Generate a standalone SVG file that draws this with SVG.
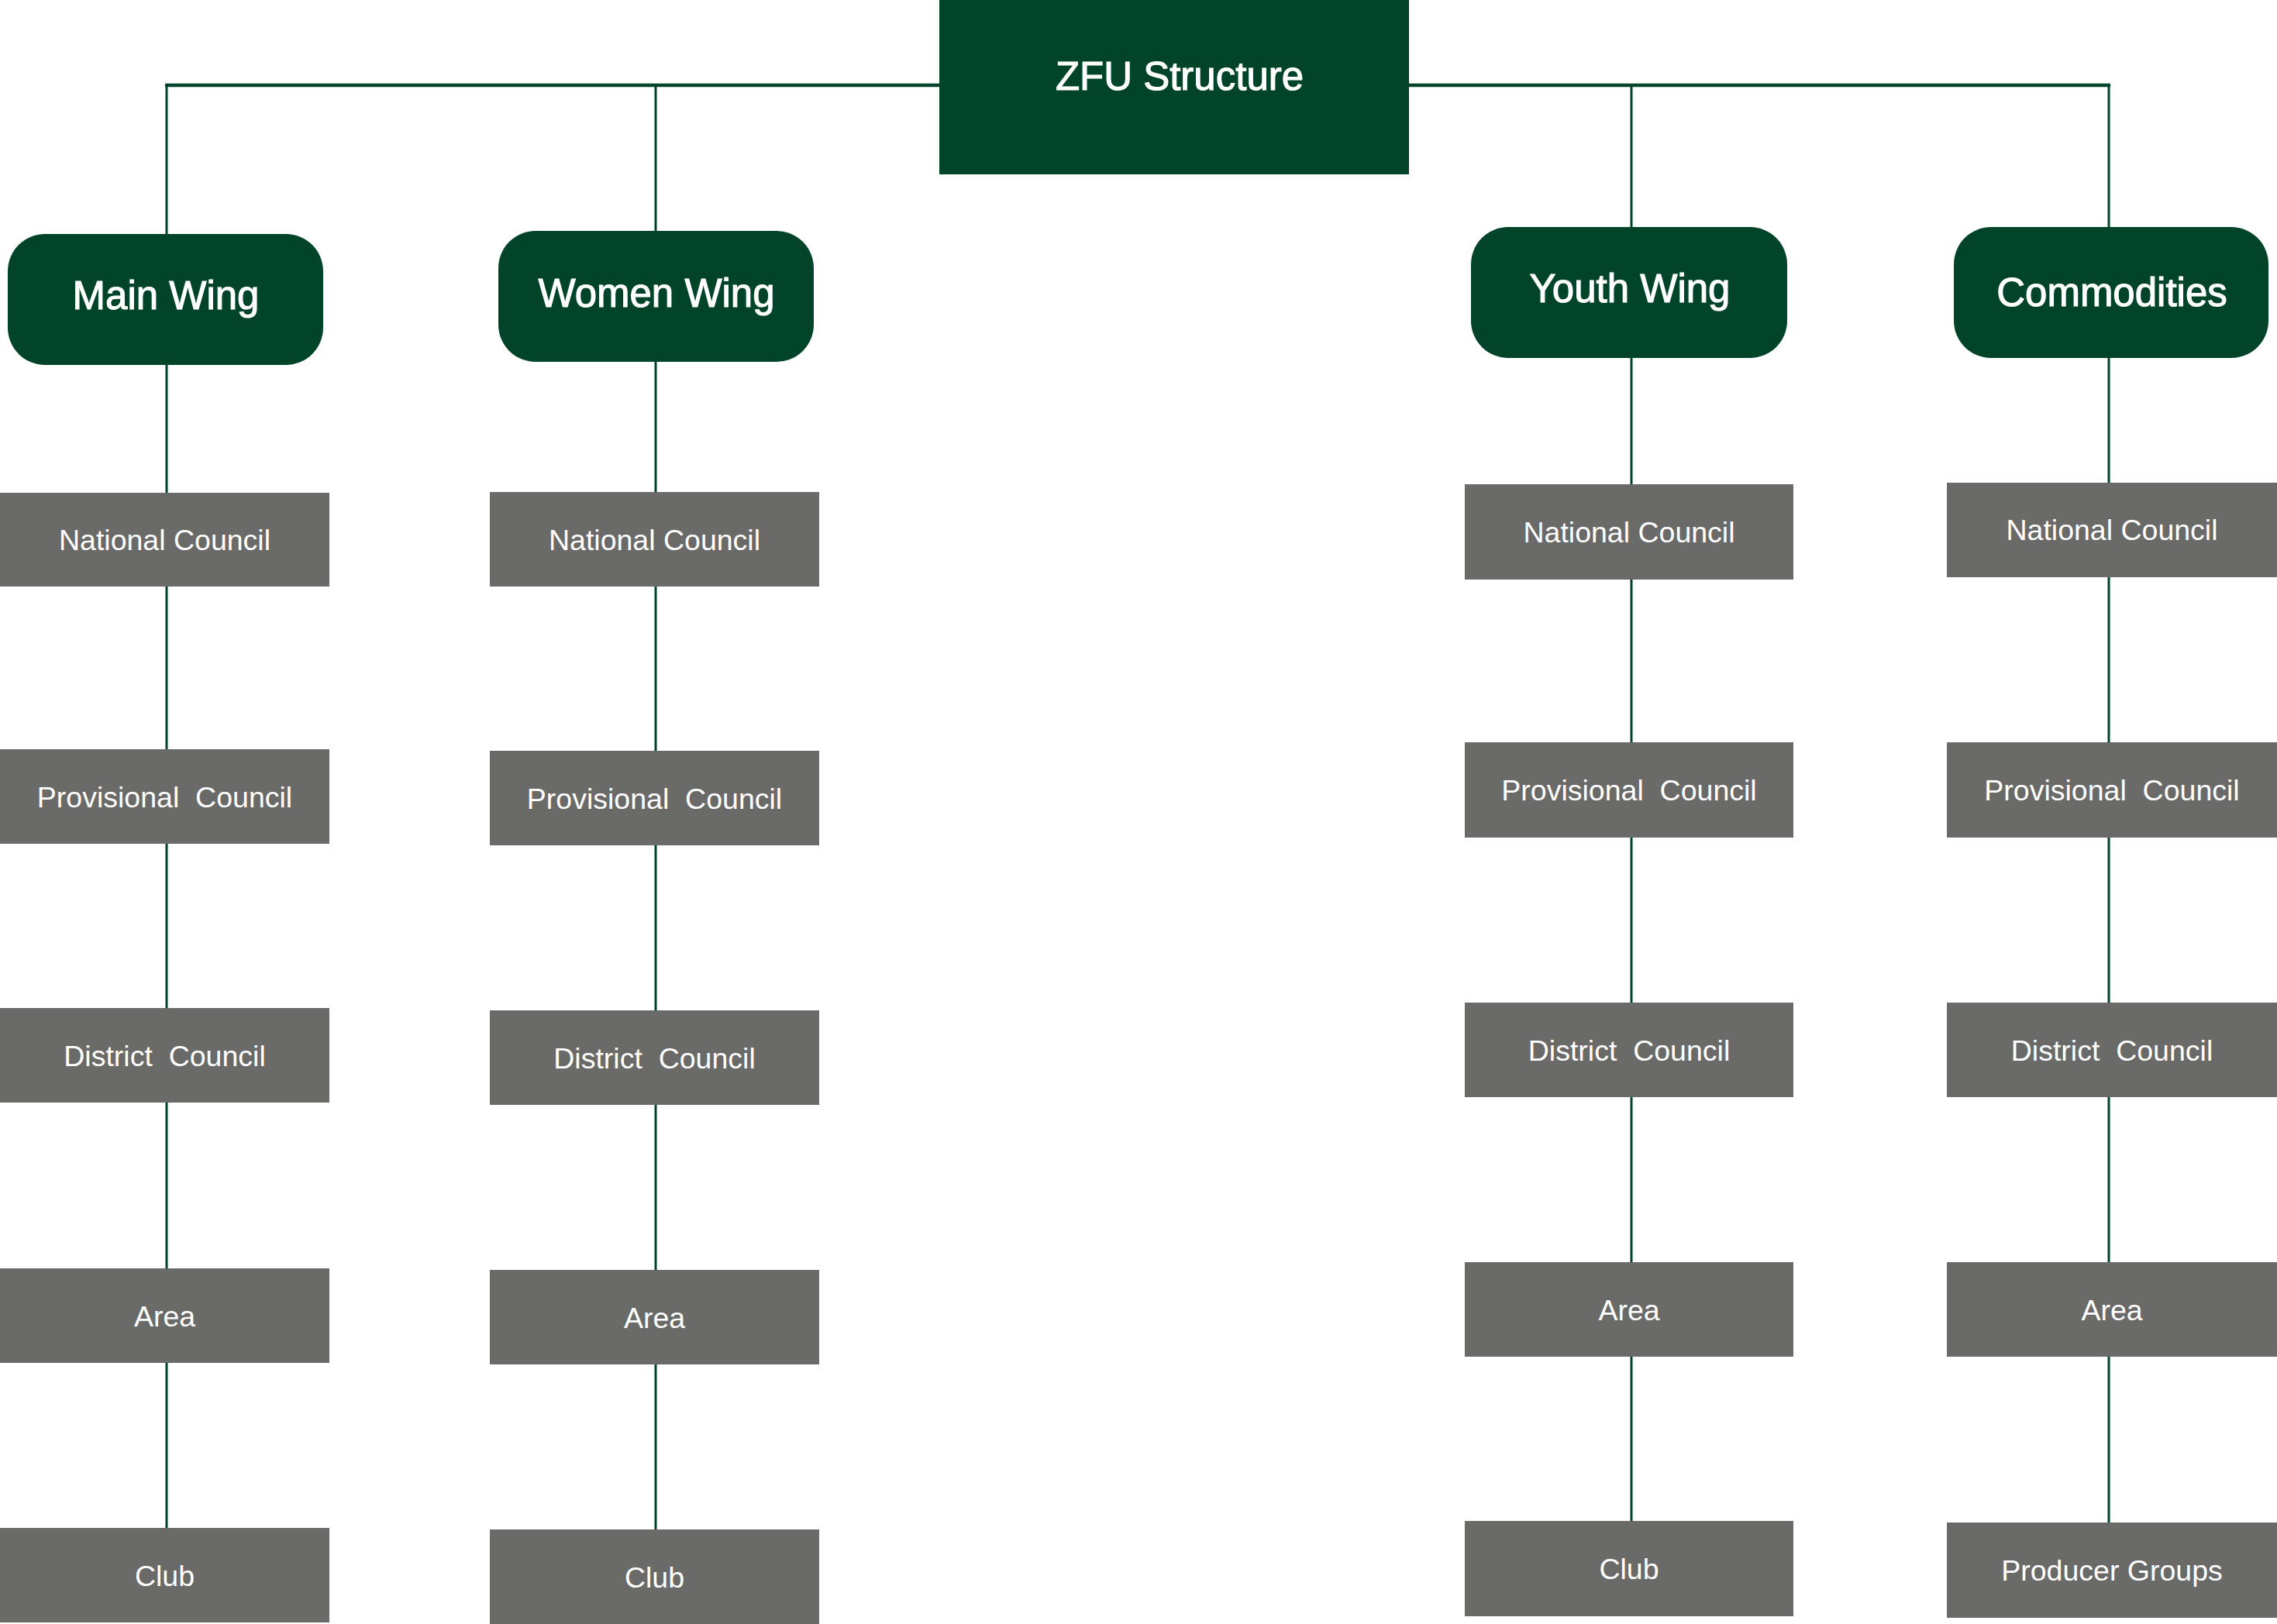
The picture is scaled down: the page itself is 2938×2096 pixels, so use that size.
<svg xmlns="http://www.w3.org/2000/svg" width="2938" height="2096" viewBox="0 0 2938 2096">
<style>
.bg{fill:#ffffff}
.top{fill:#01442a}
.wing{fill:#01442a}
.lvl{fill:#6a6a68}
.tt{font-family:"Liberation Sans",Arial,sans-serif;fill:#ffffff;text-anchor:middle;font-size:51px;stroke:#ffffff;stroke-width:1.1}
.lt{font-family:"Liberation Sans",Arial,sans-serif;fill:#ffffff;text-anchor:middle;font-size:37.5px;white-space:pre}
.c{stroke:#01442a;stroke-width:3;fill:none}
.h{stroke:#01442a;stroke-width:4.5;fill:none}
</style>
<rect class="bg" x="0" y="0" width="2938" height="2096"/>
<g id="connectors">
<path class="h" d="M213 110 H1212 M1818 110 H2723"/>
<path class="c" d="M215 110 V302 M846 110 V298 M2105 110 V293 M2721 110 V293"/>
<path class="c" d="M215 471 V636 M215 757 V967 M215 1089 V1301 M215 1423 V1637 M215 1759 V1972"/>
<path class="c" d="M846 467 V635 M846 757 V969 M846 1091 V1304 M846 1426 V1639 M846 1761 V1974"/>
<path class="c" d="M2105 462 V625 M2105 748 V958 M2105 1081 V1294 M2105 1416 V1629 M2105 1751 V1963"/>
<path class="c" d="M2721 462 V623 M2721 745 V958 M2721 1081 V1294 M2721 1416 V1629 M2721 1751 V1965"/>
</g>
<g id="zfu"><rect class="top" x="1212" y="0" width="606" height="225"/><text class="tt" x="1522" y="116">ZFU Structure</text></g>
<g id="main-wing"><rect class="wing" x="10" y="302" width="407" height="169" rx="48" ry="48"/><text class="tt" x="214" y="399">Main Wing</text></g>
<g id="women-wing"><rect class="wing" x="643" y="298" width="407" height="169" rx="48" ry="48"/><text class="tt" x="847" y="396">Women Wing</text></g>
<g id="youth-wing"><rect class="wing" x="1898" y="293" width="408" height="169" rx="48" ry="48"/><text class="tt" x="2103" y="390">Youth Wing</text></g>
<g id="commodities"><rect class="wing" x="2521" y="293" width="406" height="169" rx="48" ry="48"/><text class="tt" x="2725" y="395">Commodities</text></g>

<g id="main-national"><rect class="lvl" x="0" y="636" width="425" height="121"/><text class="lt" x="212.5" y="710">National Council</text></g>
<g id="main-provisional"><rect class="lvl" x="0" y="967" width="425" height="122"/><text class="lt" x="212.5" y="1042">Provisional  Council</text></g>
<g id="main-district"><rect class="lvl" x="0" y="1301" width="425" height="122"/><text class="lt" x="212.5" y="1376">District  Council</text></g>
<g id="main-area"><rect class="lvl" x="0" y="1637" width="425" height="122"/><text class="lt" x="212.5" y="1712">Area</text></g>
<g id="main-club"><rect class="lvl" x="0" y="1972" width="425" height="122"/><text class="lt" x="212.5" y="2047">Club</text></g>

<g id="women-national"><rect class="lvl" x="632" y="635" width="425" height="122"/><text class="lt" x="844.5" y="710">National Council</text></g>
<g id="women-provisional"><rect class="lvl" x="632" y="969" width="425" height="122"/><text class="lt" x="844.5" y="1044">Provisional  Council</text></g>
<g id="women-district"><rect class="lvl" x="632" y="1304" width="425" height="122"/><text class="lt" x="844.5" y="1379">District  Council</text></g>
<g id="women-area"><rect class="lvl" x="632" y="1639" width="425" height="122"/><text class="lt" x="844.5" y="1714">Area</text></g>
<g id="women-club"><rect class="lvl" x="632" y="1974" width="425" height="122"/><text class="lt" x="844.5" y="2049">Club</text></g>

<g id="youth-national"><rect class="lvl" x="1890" y="625" width="424" height="123"/><text class="lt" x="2102" y="700">National Council</text></g>
<g id="youth-provisional"><rect class="lvl" x="1890" y="958" width="424" height="123"/><text class="lt" x="2102" y="1033">Provisional  Council</text></g>
<g id="youth-district"><rect class="lvl" x="1890" y="1294" width="424" height="122"/><text class="lt" x="2102" y="1369">District  Council</text></g>
<g id="youth-area"><rect class="lvl" x="1890" y="1629" width="424" height="122"/><text class="lt" x="2102" y="1704">Area</text></g>
<g id="youth-club"><rect class="lvl" x="1890" y="1963" width="424" height="123"/><text class="lt" x="2102" y="2038">Club</text></g>

<g id="comm-national"><rect class="lvl" x="2512" y="623" width="426" height="122"/><text class="lt" x="2725" y="697">National Council</text></g>
<g id="comm-provisional"><rect class="lvl" x="2512" y="958" width="426" height="123"/><text class="lt" x="2725" y="1033">Provisional  Council</text></g>
<g id="comm-district"><rect class="lvl" x="2512" y="1294" width="426" height="122"/><text class="lt" x="2725" y="1369">District  Council</text></g>
<g id="comm-area"><rect class="lvl" x="2512" y="1629" width="426" height="122"/><text class="lt" x="2725" y="1704">Area</text></g>
<g id="comm-producer"><rect class="lvl" x="2512" y="1965" width="426" height="123"/><text class="lt" x="2725" y="2040">Producer Groups</text></g>
</svg>
